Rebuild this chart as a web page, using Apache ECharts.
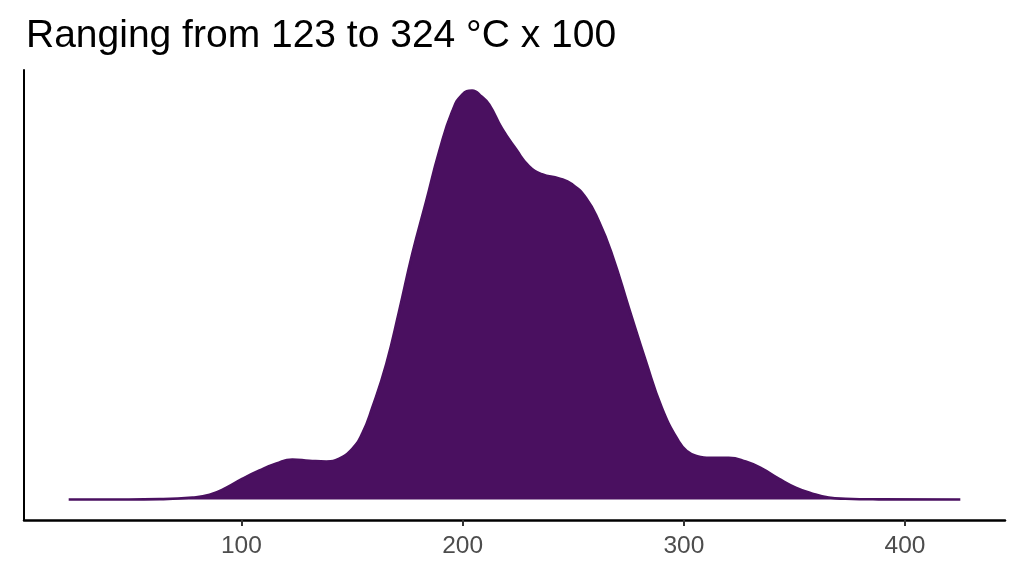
<!DOCTYPE html>
<html>
<head>
<meta charset="utf-8">
<script src="https://cdn.jsdelivr.net/npm/echarts@6/dist/echarts.min.js"></script>
<style>html,body{margin:0;padding:0;background:#fff}#c{width:1024px;height:576px}</style>
</head>
<body>
<div id="c"></div>
<script>
const titleText = 'Ranging from 123 to 324 °C x 100';
const xTicks = [100, 200, 300, 400];
const xValues = [21.9, 44.9, 63.0, 77.9, 85.6, 93.2, 100.5, 108.1, 115.8, 123.0, 130.7, 138.4, 144.2, 150.1, 154.6, 159.1, 165.5, 171.3, 177.2, 183.5, 189.4, 195.3, 199.8, 204.3, 208.6, 212.0, 217.8, 224.2, 230.0, 235.9, 243.6, 249.4, 255.8, 261.6, 267.5, 275.2, 282.8, 290.1, 297.7, 301.5, 305.4, 312.6, 320.3, 328.0, 335.2, 342.9, 350.6, 357.8, 365.5, 373.1, 388.0, 425.0];
const density = [0, 0.0002, 0.001, 0.005, 0.012, 0.029, 0.051, 0.071, 0.088, 0.098, 0.095, 0.093, 0.100, 0.124, 0.161, 0.224, 0.332, 0.461, 0.600, 0.729, 0.851, 0.949, 0.990, 1.000, 0.985, 0.966, 0.907, 0.856, 0.815, 0.795, 0.785, 0.771, 0.737, 0.680, 0.600, 0.468, 0.339, 0.224, 0.142, 0.118, 0.107, 0.102, 0.102, 0.093, 0.076, 0.051, 0.029, 0.015, 0.005, 0.002, 0.0005, 0];

const fill = '#4a1060';
const chart = echarts.init(document.getElementById('c'), null, {renderer: 'canvas'});
chart.setOption({
  animation: false,
  backgroundColor: '#ffffff',
  title: {
    text: titleText,
    left: 21,
    top: 12,
    textStyle: {fontFamily: 'Liberation Sans, Arial, sans-serif', fontSize: 39, fontWeight: 'normal', color: '#000'}
  },
  grid: {left: 24, right: 19, top: 70, bottom: 56, containLabel: false},
  xAxis: {
    type: 'value',
    min: 1.7,
    max: 445.2,
    axisLine: {show: true, onZero: false, lineStyle: {color: '#000', width: 2.5}},
    axisTick: {show: true, customValues: xTicks, length: 6, lineStyle: {color: '#333', width: 2}},
    axisLabel: {show: true, customValues: xTicks, margin: 14, fontSize: 24.5, color: '#4d4d4d', fontFamily: 'Liberation Sans, Arial, sans-serif'},
    splitLine: {show: false}
  },
  yAxis: {
    type: 'value',
    min: -0.05,
    max: 1.05,
    axisLine: {show: true, lineStyle: {color: '#000', width: 2}},
    axisTick: {show: false},
    axisLabel: {show: false},
    splitLine: {show: false}
  },
  series: [{
    type: 'line',
    data: xValues.map((x, i) => [x, density[i]]),
    smooth: 0.5,
    showSymbol: false,
    lineStyle: {color: fill, width: 2.6},
    areaStyle: {color: fill, opacity: 1, origin: 0},
    z: 2
  }]
});
</script>
</body>
</html>
